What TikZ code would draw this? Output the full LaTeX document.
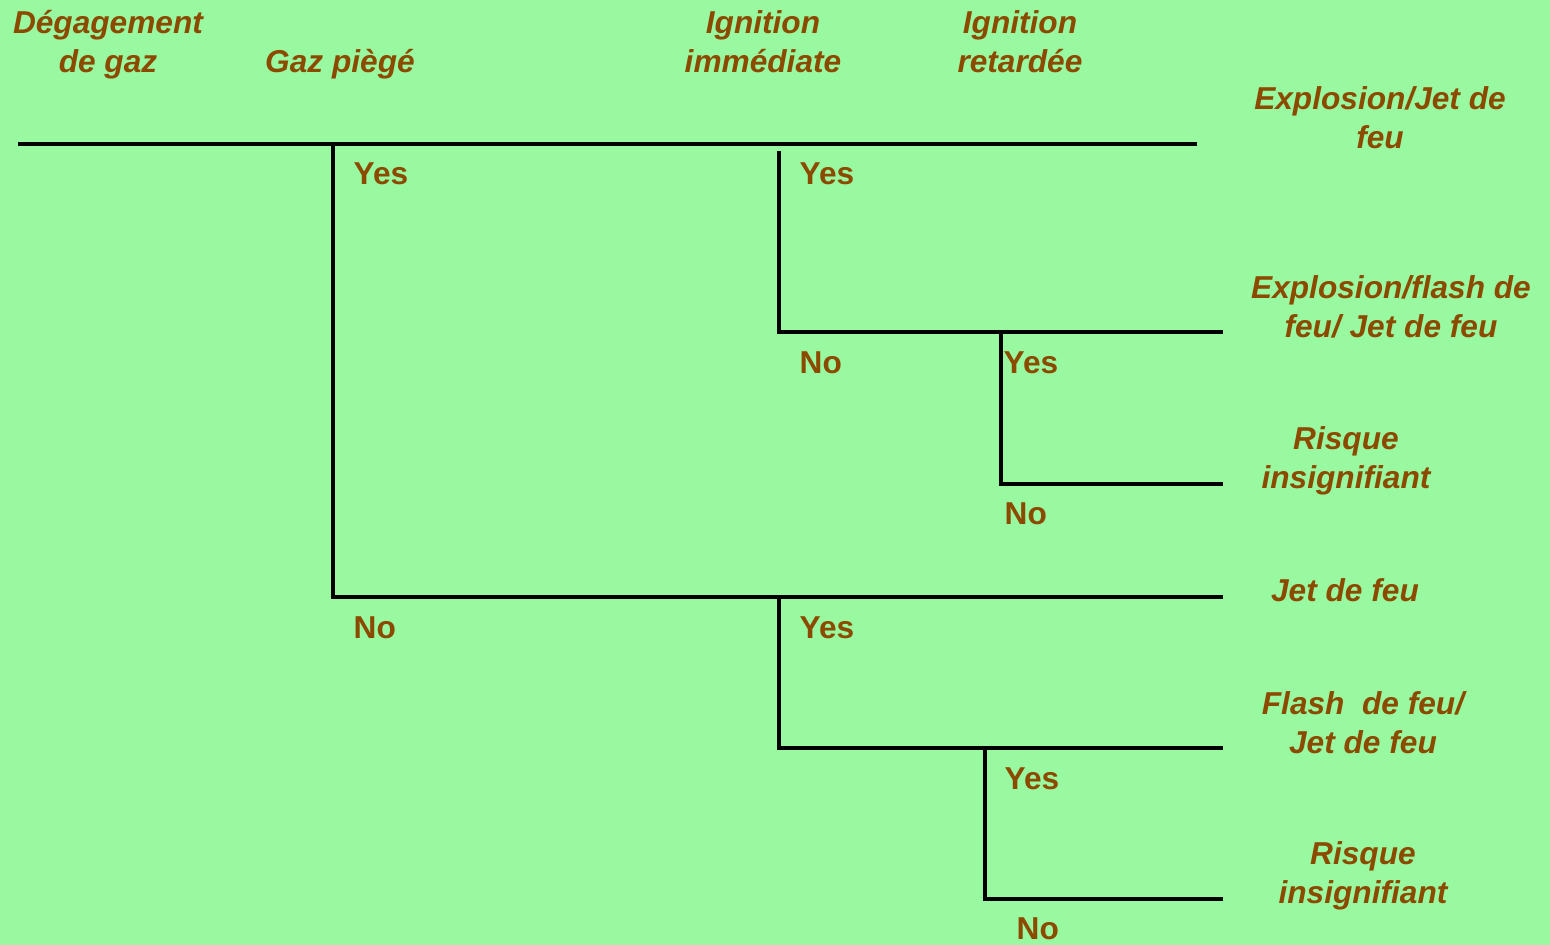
\documentclass[tikz,border=0pt]{standalone}
\usepackage{fontspec}
\setmainfont{Liberation Sans}
\usepackage{xcolor}
\usetikzlibrary{positioning}
\definecolor{treebg}{RGB}{153,249,160}
\definecolor{treetext}{RGB}{140,74,0}

\begin{document}
\begin{tikzpicture}[x=0.01cm, y=-0.01cm,
      branch/.style={line width=0.9pt, black},
      head/.style={align=center, inner sep=0pt, anchor=base, text=treetext, font=\fontsize{9}{11}\selectfont\bfseries\itshape},
      outcome/.style={head},
      answer/.style={inner sep=0pt, anchor=west, text=treetext, font=\fontsize{9}{11}\selectfont\bfseries}]
      \fill[treebg] (0,0) rectangle (1550,945);
      \useasboundingbox (0,0) rectangle (1550,945);
      % branch points
      \coordinate (start) at (18,144);   \coordinate (topend) at (1197,144);
      \coordinate (trap) at (333,144);   \coordinate (trapno) at (333,597);  \coordinate (trapnoend) at (1223,597);
      \coordinate (ign1) at (779,151);   \coordinate (ign1no) at (779,332);  \coordinate (ign1noend) at (1223,332);
      \coordinate (del1) at (1001,332);  \coordinate (del1no) at (1001,484); \coordinate (del1noend) at (1223,484);
      \coordinate (ign2) at (779,597);   \coordinate (ign2no) at (779,748);  \coordinate (ign2noend) at (1223,748);
      \coordinate (del2) at (985,748);   \coordinate (del2no) at (985,899);  \coordinate (del2noend) at (1223,899);
      \draw[branch] (start) -- (topend);
      \draw[branch] (trap) -- (trapno) -- (trapnoend);
      \draw[branch] (ign1) -- (ign1no) -- (ign1noend);
      \draw[branch] (del1) -- (del1no) -- (del1noend);
      \draw[branch] (ign2) -- (ign2no) -- (ign2noend);
      \draw[branch] (del2) -- (del2no) -- (del2noend);
      % column heads
      \node[head] (hrelease) at (108,72) {Dégagement\\de gaz};
      \node[head] (htrap) at (340,72) {Gaz piègé};
      \node[head] (himm) at (763,72) {Ignition\\immédiate};
      \node[head] (hdel) at (1020,72) {Ignition\\retardée};
      % outcomes
      \node[outcome] (out1) at (1380,148) {Explosion/Jet de\\feu};
      \node[outcome] (out2) at (1391,337) {Explosion/flash de\\feu/ Jet de feu};
      \node[outcome] (out3) at (1346,488) {Risque\\insignifiant};
      \node[outcome] (out4) at (1345,601) {Jet de feu};
      \node[outcome] (out5) at (1363,753) {Flash~ de feu/\\Jet de feu};
      \node[outcome] (out6) at (1363,903) {Risque\\insignifiant};
      % yes / no
      \node[answer] (trapyes) at (353,174) {Yes};
      \node[answer] (trapnolab) at (353,628) {No};
      \node[answer] (ign1yes) at (799,174) {Yes};
      \node[answer] (ign1nolab) at (799,363) {No};
      \node[answer] (del1yes) at (1003,363) {Yes};
      \node[answer] (del1nolab) at (1004,514) {No};
      \node[answer] (ign2yes) at (799,628) {Yes};
      \node[answer] (del2yes) at (1004,779) {Yes};
      \node[answer] (del2nolab) at (1016,929) {No};
\end{tikzpicture}
\end{document}
